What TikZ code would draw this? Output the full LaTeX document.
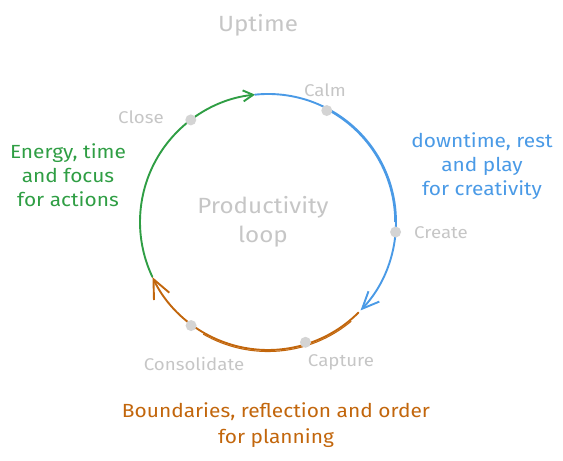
\documentclass[tikz,border=0pt]{standalone}
\usepackage{fontspec}
\setmainfont{Fira Sans}[FakeStretch=1.1]
\usetikzlibrary{arrows.meta}
\definecolor{cgreen}{HTML}{2F9E44}
\definecolor{cblue}{HTML}{4A9AE6}
\definecolor{corange}{HTML}{C2660C}
\definecolor{cgray}{HTML}{C6C6C6}
\definecolor{cdot}{HTML}{D4D4D4}
\begin{document}
\begin{tikzpicture}[x=1pt,y=1pt,
  dotnode/.style={circle,fill=cdot,inner sep=0pt,minimum size=11pt},
  lbl/.style={text=cgray,font=\fontsize{17}{20}\selectfont,inner sep=0pt},
  note/.style={align=center,inner sep=0pt,font=\fontsize{19}{24}\selectfont},
  loopline/.style={line width=1.9pt,line cap=round}]
\useasboundingbox (0,0) rectangle (563,461);
\coordinate (C) at (268,239);
% points on the loop
\coordinate (top) at ([shift={(95.8:128)}]C);
\coordinate (gstart) at ([shift={(205.4:128)}]C);
\coordinate (ostart) at ([shift={(-45:128)}]C);
% arcs
\draw[loopline,cgreen,-{Straight Barb[length=10pt,width=11pt]}] (gstart) arc[start angle=205.4,end angle=95.8,radius=128];
\draw[loopline,cblue,-{Straight Barb[length=17pt,width=15pt]}] (top) arc[start angle=95.8,end angle=-43.7,radius=128];
\draw[cblue,line width=1.5pt] ([shift={(60:127)}]C) arc[start angle=60,end angle=0,radius=127];
\draw[loopline,corange,-{Straight Barb[length=19pt,width=17pt]}] (ostart) arc[start angle=-45,end angle=-154.5,radius=128];
\draw[corange,line width=1.1pt] ([shift={(-50:129.5)}]C) arc[start angle=-50,end angle=-120,radius=129.5];
% dots
\node[dotnode] (close) at ([shift={(127.1:128)}]C) {};
\node[dotnode] (calm) at ([shift={(62.2:126)}]C) {};
\node[dotnode] (create) at ([shift={(-4.5:128)}]C) {};
\node[dotnode] (capture) at ([shift={(-72.7:126)}]C) {};
\node[dotnode] (consol) at ([shift={(-126.6:129)}]C) {};
% labels
\node[lbl] (lcalm) at (325,371) {Calm};
\node[lbl] (lclose) at (141,344) {Close};
\node[lbl] (lcreate) at (441,228) {Create};
\node[lbl] (lcapture) at (341,99) {Capture};
\node[lbl] (lconsol) at (194,97) {Consolidate};
\node[text=cgray,font=\fontsize{22}{26}\selectfont,inner sep=0pt] (uptime) at (258,436) {Uptime};
\node[text=cgray,align=center,inner sep=0pt,font=\fontsize{22}{29}\selectfont] (prod) at (263,239) {Productivity\\loop};
% notes
\node[note,text=cgreen] (ngreen) at (68,286) {Energy, time\\and focus\\for actions};
\node[note,text=cblue] (nblue) at (482,295) {downtime, rest\\and play\\for creativity};
\node[note,text=corange,font=\fontsize{19}{26}\selectfont] (norange) at (276,36) {Boundaries, reflection and order\\for planning};
\end{tikzpicture}
\end{document}
